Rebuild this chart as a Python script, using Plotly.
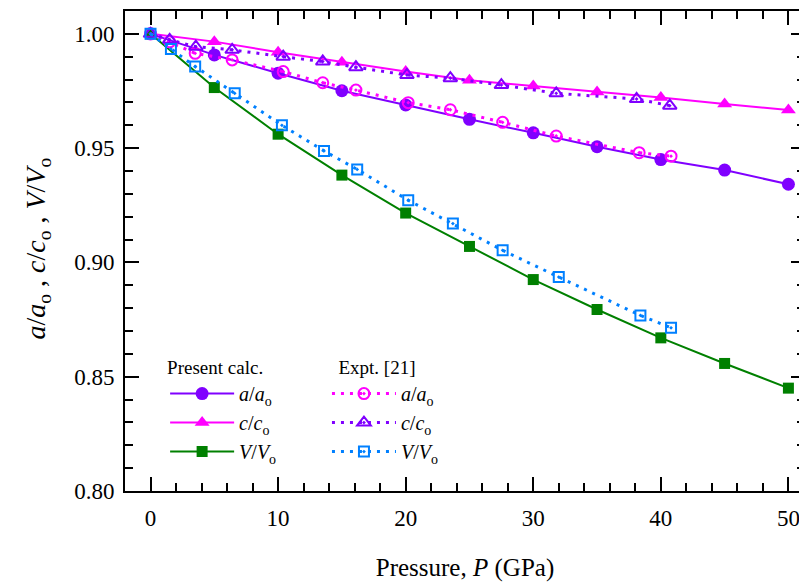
import plotly.graph_objects as go

# ---- data ----
p_calc = [0, 5, 10, 15, 20, 25, 30, 35, 40, 45, 50]
a_calc = [1.000, 0.9908, 0.9828, 0.9751, 0.9689, 0.9626, 0.9567, 0.9506, 0.9450, 0.9404, 0.9342]
c_calc = [1.000, 0.9966, 0.9920, 0.9876, 0.9835, 0.9797, 0.9772, 0.9746, 0.9722, 0.9693, 0.9667]
v_calc = [1.000, 0.9765, 0.9561, 0.9382, 0.9216, 0.9070, 0.8925, 0.8794, 0.8670, 0.8558, 0.8450]

p_a_exp = [0, 1.5, 3.5, 6.4, 10.4, 13.5, 16.1, 20.2, 23.5, 27.6, 31.8, 38.3, 40.8]
a_exp = [1.000, 0.9965, 0.9915, 0.9886, 0.9835, 0.9786, 0.9754, 0.9699, 0.9668, 0.9613, 0.9553, 0.9480, 0.9465]
p_c_exp = [0, 1.5, 3.55, 6.4, 10.4, 13.5, 16.1, 20.1, 23.5, 27.5, 31.8, 38.1, 40.7]
c_exp = [1.000, 0.9974, 0.9944, 0.9930, 0.9900, 0.9879, 0.9854, 0.9820, 0.9806, 0.9776, 0.9740, 0.9715, 0.9686]
p_v_exp = [0, 1.6, 3.5, 6.6, 10.3, 13.6, 16.2, 20.2, 23.7, 27.6, 32.0, 38.4, 40.8]
v_exp = [1.000, 0.9934, 0.9857, 0.9740, 0.9600, 0.9488, 0.9407, 0.9272, 0.9170, 0.9053, 0.8936, 0.8768, 0.8714]

x_ticks = [0, 10, 20, 30, 40, 50]
y_ticks = [0.80, 0.85, 0.90, 0.95, 1.00]

PURPLE = "#8000FF"
MAGENTA = "#FF00FF"
GREEN = "#008000"
BLUE = "#0080FF"
FONT = "Liberation Serif"

lab_a = "<i>a</i>/<i>a</i><sub>o</sub>"
lab_c = "<i>c</i>/<i>c</i><sub>o</sub>"
lab_v = "<i>V</i>/<i>V</i><sub>o</sub>"

fig = go.Figure()

# present calculation
fig.add_trace(go.Scatter(x=p_calc, y=a_calc, mode="lines+markers", name=lab_a, legend="legend",
                         line=dict(color=PURPLE, width=2),
                         marker=dict(symbol="circle", size=13, color=PURPLE)))
fig.add_trace(go.Scatter(x=p_calc, y=c_calc, mode="lines+markers", name=lab_c, legend="legend",
                         line=dict(color=MAGENTA, width=2),
                         marker=dict(symbol="triangle-up", size=13, color=MAGENTA)))
fig.add_trace(go.Scatter(x=p_calc, y=v_calc, mode="lines+markers", name=lab_v, legend="legend",
                         line=dict(color=GREEN, width=2),
                         marker=dict(symbol="square", size=11, color=GREEN)))

# experiment
dots = "3px,6px"
fig.add_trace(go.Scatter(x=p_a_exp, y=a_exp, mode="lines+markers", name=lab_a, legend="legend2",
                         line=dict(color=MAGENTA, width=3, dash=dots),
                         marker=dict(symbol="circle-open-dot", size=11, color=MAGENTA,
                                     line=dict(width=2, color=MAGENTA))))
fig.add_trace(go.Scatter(x=p_c_exp, y=c_exp, mode="lines+markers", name=lab_c, legend="legend2",
                         line=dict(color=PURPLE, width=3, dash=dots),
                         marker=dict(symbol="triangle-up-open-dot", size=12, color=PURPLE,
                                     line=dict(width=2, color=PURPLE))))
fig.add_trace(go.Scatter(x=p_v_exp, y=v_exp, mode="lines+markers", name=lab_v, legend="legend2",
                         line=dict(color=BLUE, width=3, dash=dots),
                         marker=dict(symbol="square-open-dot", size=10, color=BLUE,
                                     line=dict(width=2, color=BLUE))))

axis_common = dict(
    showline=True, linecolor="black", linewidth=2, mirror="allticks",
    ticks="inside", ticklen=14, tickwidth=2, tickcolor="black",
    showgrid=False, zeroline=False,
    tickfont=dict(family=FONT, size=23, color="black"),
)

fig.update_xaxes(range=[-2, 51.3], tickvals=x_ticks, ticktext=[str(v) for v in x_ticks],
                 minor=dict(dtick=2, ticks="inside", ticklen=8, tickwidth=2, tickcolor="black"),
                 title=dict(text="Pressure, <i>P</i> (GPa)", font=dict(family=FONT, size=25, color="black"),
                            standoff=29),
                 ticklabelstandoff=5,
                 **axis_common)
fig.update_yaxes(range=[0.80, 1.01], tickvals=y_ticks, ticktext=["%.2f" % v for v in y_ticks],
                 minor=dict(dtick=0.01, ticks="inside", ticklen=8, tickwidth=2, tickcolor="black"),
                 ticklabelstandoff=4,
                 **axis_common)

fig.add_annotation(text="<i>a</i>/<i>a</i><sub>o</sub> , <i>c</i>/<i>c</i><sub>o</sub> , <i>V</i>/<i>V</i><sub>o</sub>",
                   xref="paper", yref="paper", x=-0.128, y=0.505, textangle=-90,
                   xanchor="center", yanchor="middle", showarrow=False,
                   font=dict(family=FONT, size=28, color="black"))

legend_common = dict(
    bgcolor="rgba(0,0,0,0)", borderwidth=0, yanchor="top", xanchor="left",
    font=dict(family=FONT, size=20, color="black"), tracegroupgap=0, itemwidth=64,
)
fig.update_layout(
    width=799, height=576,
    margin=dict(l=117, r=0, t=3, b=93),
    paper_bgcolor="white", plot_bgcolor="white",
    showlegend=True,
    legend=dict(x=0.059, y=0.295, title=dict(text="Present calc.", font=dict(family=FONT, size=19, color="black")),
                **legend_common),
    legend2=dict(x=0.297, y=0.295, title=dict(text="\u00a0\u00a0Expt. [21]", font=dict(family=FONT, size=19, color="black")),
                 **legend_common),
)

fig.write_html("out.html")
